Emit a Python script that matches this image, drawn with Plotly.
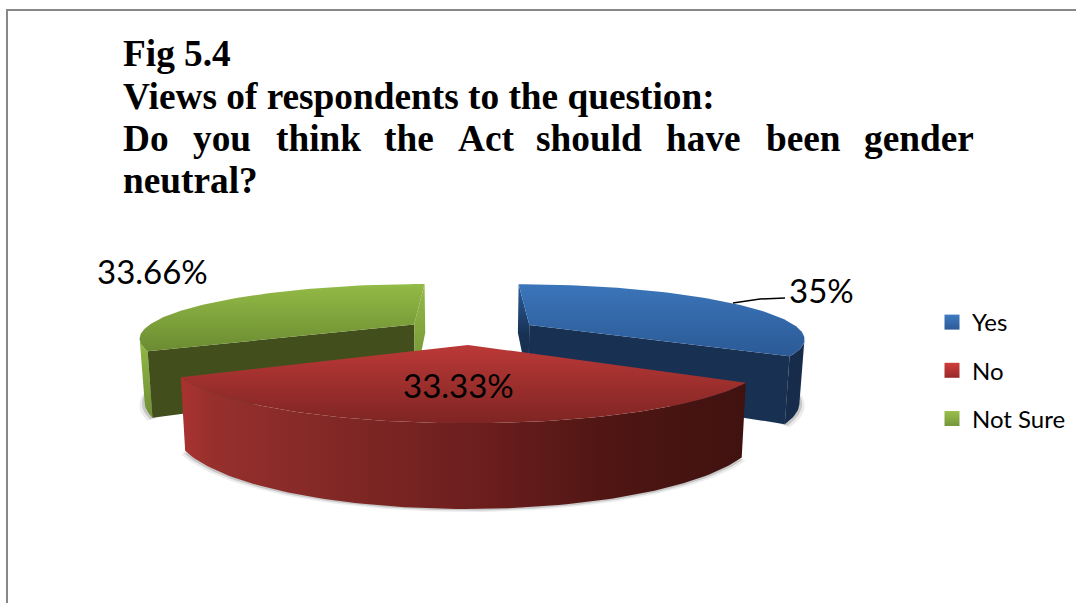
import numpy as np
import plotly.graph_objects as go

# Survey responses
categories = ["Yes", "No", "Not Sure"]
values = [35, 33.33, 33.66]
value_labels = ["35%", "33.33%", "33.66%"]
title_lines = ["Fig 5.4", "Views of respondents to the question:"]
justified_words = ["Do", "you", "think", "the", "Act", "should", "have", "been", "gender"]
last_line = "neutral?"

# Projection of the tilted, exploded pie onto the page
CX, CY, RADIUS, TILT, DEPTH, THICK, EXPLODE = 471, 331, 272, 0.193, 0.231, 61, 0.25
W, H = 1076, 603


def project(u, v, z=0.0):
    u, v = np.asarray(u, float), np.asarray(v, float)
    s = 1 / (1 + DEPTH * v)
    return CX + RADIUS * u * s * (1 - 0.015 * z), CY - RADIUS * TILT * v * s + THICK * s * z


def slice_points(a0, a1, n=90):
    mid = (a0 + a1) / 2
    ou, ov = EXPLODE * np.sin(mid), EXPLODE * np.cos(mid)
    th = np.linspace(a0, a1, n)
    return ou, ov, ou + np.sin(th), ov + np.cos(th)


def face(fig, xs, ys, color=None, gradient=None):
    style = dict(fillgradient=gradient) if gradient else dict(fillcolor=color)
    fig.add_trace(go.Scatter(x=np.r_[xs, xs[0]], y=np.r_[ys, ys[0]], mode="lines", fill="toself",
                             line=dict(width=0, color="rgba(0,0,0,0)"), hoverinfo="skip",
                             showlegend=False, **style))


def vgrad(top, bottom, y0, y1):
    return dict(type="vertical", colorscale=[[0, top], [1, bottom]], start=y0, stop=y1)


def cut_face(fig, ou, ov, eu, ev, **style):
    ax, ay = project(ou, ov, 0)
    ex, ey = project(eu, ev, 0)
    fx, fy = project(eu, ev, 1)
    bx, by = project(ou, ov, 1)
    face(fig, np.array([ax, ex, fx, bx]), np.array([ay, ey, fy, by]), **style)


def wall(fig, us, vs, **style):
    tx, ty = project(us, vs, 0)
    bx, by = project(us, vs, 1)
    face(fig, np.r_[tx, bx[::-1]], np.r_[ty, by[::-1]], **style)


def front_of_arc(us, vs, corner_first):
    # Keep only the outer wall between the slice's cut corner and the arc's widest point
    x, _ = project(us, vs)
    widest = int(np.argmax(np.abs(x - CX)))
    return (us[:widest + 1], vs[:widest + 1]) if corner_first else (us[widest:], vs[widest:])


def shadow(fig, us, vs):
    # Soft grey rim under the base of a slice
    bx, by = project(us, vs, 1)
    for grow, drop, alpha in [(1.016, 3, 0.10), (1.008, 1.5, 0.22)]:
        sx = CX + (bx - CX) * grow
        fig.add_trace(go.Scatter(x=np.r_[sx, sx[0]], y=np.r_[by, by[0]] + drop, mode="lines", fill="toself",
                                 fillcolor=f"rgba(70,70,70,{alpha})", line=dict(width=0),
                                 hoverinfo="skip", showlegend=False))


fig = go.Figure()

shares = np.array(values) / sum(values) * 2 * np.pi
edges = np.r_[0, np.cumsum(shares)]
blue = slice_points(edges[0], edges[1])
red = slice_points(edges[1], edges[2])
green = slice_points(edges[2], edges[3])

for ou, ov, us, vs in (blue, red, green):
    shadow(fig, us, vs)

# Not Sure slice
ou, ov, us, vs = green
wall(fig, *front_of_arc(us, vs, True), gradient=vgrad("#93bb46", "#6f8d33", 335, 420))
cut_face(fig, ou, ov, us[0], vs[0], color="#424f1c")
cut_face(fig, ou, ov, us[-1], vs[-1], gradient=vgrad("#93bb46", "#7d9f3b", 284, 345))
x, y = project(np.r_[ou, us], np.r_[ov, vs])
face(fig, x, y, gradient=vgrad("#93bb46", "#6c8c32", 284, 350))

# Yes slice
ou, ov, us, vs = blue
wall(fig, *front_of_arc(us, vs, False), color="#172c4b")
cut_face(fig, ou, ov, us[0], vs[0], gradient=vgrad("#2a5f9e", "#183153", 284, 335))
cut_face(fig, ou, ov, us[-1], vs[-1], color="#183153")
x, y = project(np.r_[ou, us], np.r_[ov, vs])
face(fig, x, y, gradient=vgrad("#3b75ba", "#2b5a96", 284, 356))

# No slice
ou, ov, us, vs = red
wall(fig, us, vs, gradient=dict(
    type="horizontal",
    colorscale=[[0, "#aa3230"], [0.06, "#96302d"], [0.3, "#7f2725"], [0.55, "#6a1d1d"],
                [0.75, "#501613"], [1, "#3f1210"]],
    start=180, stop=746))
x, y = project(np.r_[ou, us], np.r_[ov, vs])
face(fig, x, y, gradient=vgrad("#bb3937", "#7f2523", 345, 422))

# Legend entries
swatch_tops = ["#3f7cc4", "#cf3d3b", "#9bc04c"]
swatch_bottoms = ["#2c5a97", "#98292a", "#76963a"]
for name, top, bottom in zip(categories, swatch_tops, swatch_bottoms):
    fig.add_trace(go.Scatter(x=[None], y=[None], mode="markers", name=name, legendgroup=name,
                             marker=dict(symbol="square", size=15, color=top,
                                         gradient=dict(type="vertical", color=bottom))))

LABEL_FONT = dict(family="Lato, Carlito, sans-serif", size=33, color="#000000")
TITLE_FONT = dict(family="Liberation Serif, serif", size=37.3, color="#000000")
annotations = []


def text(x, y, s, font):
    annotations.append(dict(x=x, y=y, text=s, showarrow=False, xanchor="left", yanchor="middle",
                            font=font, xref="x", yref="y", borderpad=0, borderwidth=0))


text(789, 290, value_labels[0], LABEL_FONT)
text(403, 385, value_labels[1], LABEL_FONT)
text(97, 271, value_labels[2], LABEL_FONT)

text(123, 53, f"<b>{title_lines[0]}</b>", TITLE_FONT)
text(123, 96, f"<b>{title_lines[1]}</b>", TITLE_FONT)
for word, wx in zip(justified_words, [123, 193, 276, 384, 458, 536, 666, 766, 864]):
    text(wx, 138, f"<b>{word}</b>", TITLE_FONT)
text(123, 180, f"<b>{last_line}</b>", TITLE_FONT)

fig.update_layout(
    width=W, height=H, autosize=False,
    margin=dict(l=0, r=0, t=0, b=0),
    paper_bgcolor="#ffffff", plot_bgcolor="#ffffff",
    xaxis=dict(range=[0, W], visible=False, fixedrange=True),
    yaxis=dict(range=[H, 0], visible=False, fixedrange=True),
    annotations=annotations,
    legend=dict(x=932 / W, y=1 - 300 / H, xanchor="left", yanchor="top",
                font=dict(family="Lato, Carlito, sans-serif", size=24, color="#000000"),
                tracegroupgap=14, itemsizing="trace", bgcolor="rgba(0,0,0,0)"),
    shapes=[
        dict(type="line", xref="x", yref="y", x0=7, y0=603, x1=7, y1=10, line=dict(color="#888888", width=2)),
        dict(type="line", xref="x", yref="y", x0=6, y0=10, x1=1076, y1=10, line=dict(color="#888888", width=2)),
        dict(type="path", xref="x", yref="y", path="M 733 303 L 760 299 L 785 298", line=dict(color="#000000", width=1.5)),
    ],
)

fig.write_html("out.html", config=dict(displayModeBar=False))
